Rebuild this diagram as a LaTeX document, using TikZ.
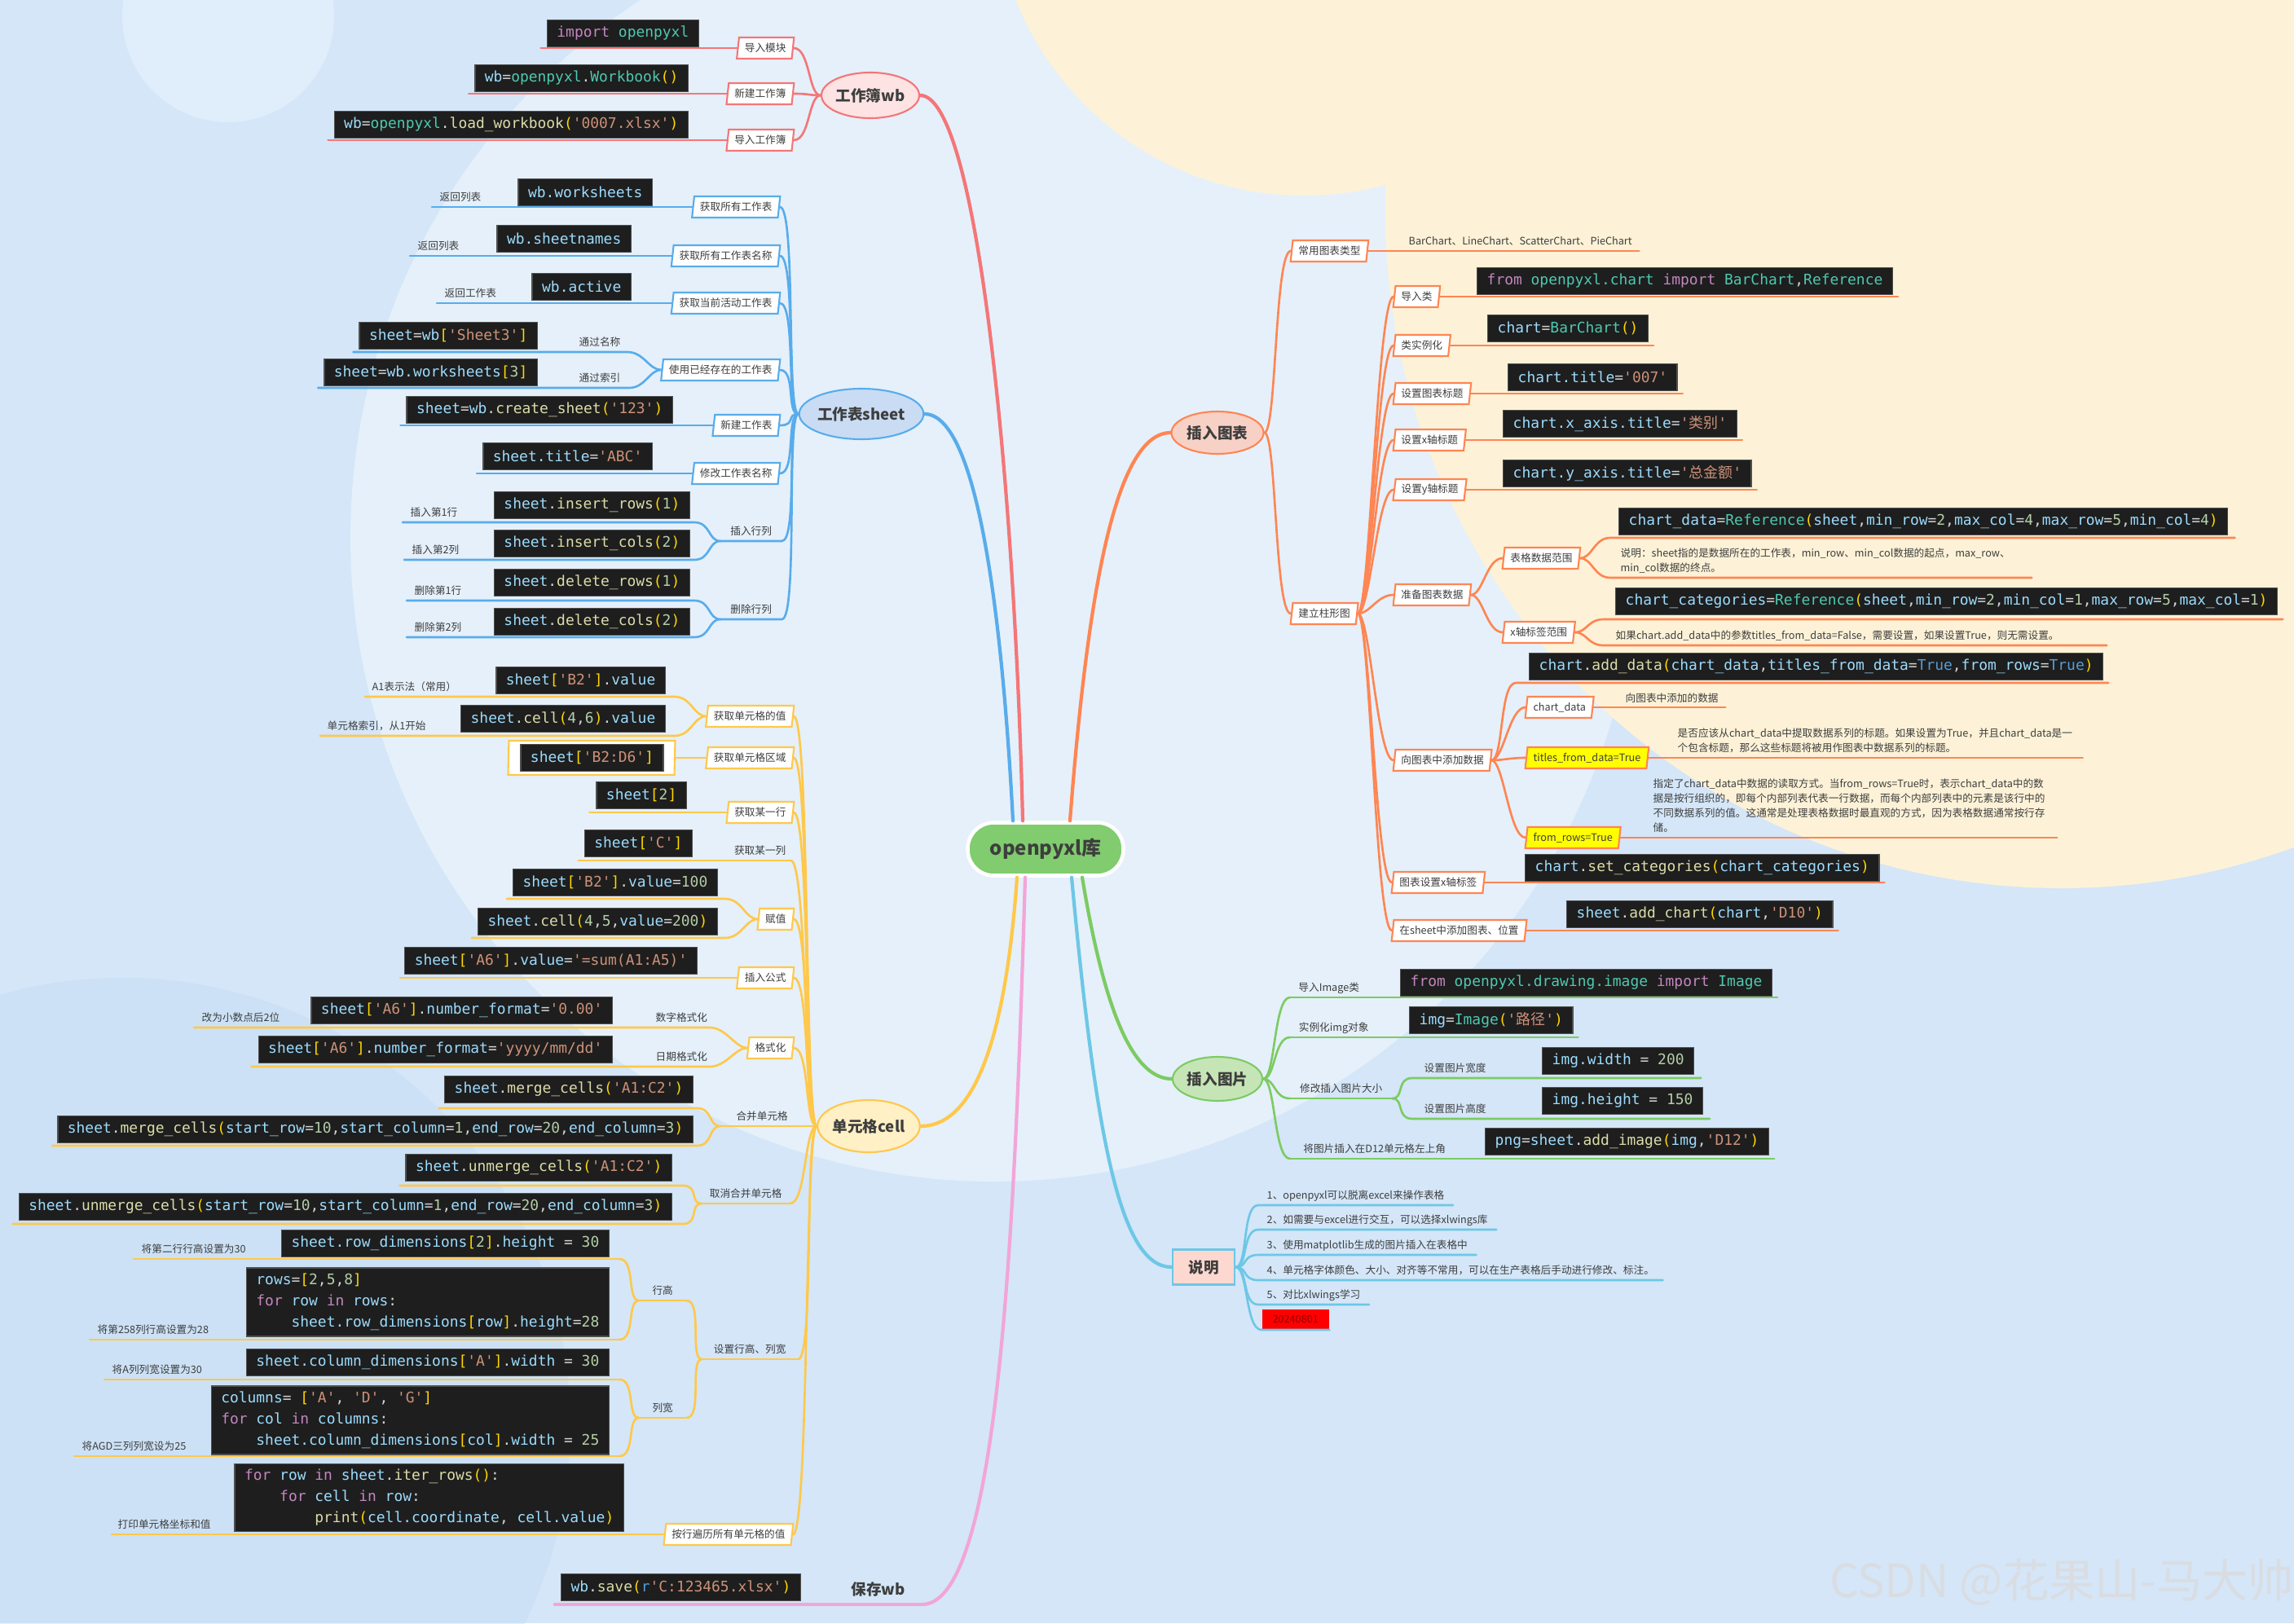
\documentclass[tikz,border=0pt]{standalone}
\usepackage{fontspec}
\setmainfont{Noto Sans CJK SC}
\setmonofont{DejaVu Sans Mono}
\newfontfamily\cjk{Noto Sans CJK SC}
\usepackage{tikz}
\usetikzlibrary{shapes.geometric}
\definecolor{bgblue}{HTML}{D4E6F8}
\definecolor{bgdeep}{HTML}{BFD8F2}
\definecolor{bgcream}{HTML}{FDF2D7}
\definecolor{inkgray}{HTML}{3E3E3E}
\definecolor{rootgrn}{HTML}{80CC6E}
\definecolor{wbpink}{HTML}{F47678}
\definecolor{wbfill}{HTML}{FDE3E3}
\definecolor{wsblue}{HTML}{58ACEB}
\definecolor{wsfill}{HTML}{C9DCF4}
\definecolor{ceyel}{HTML}{FFC84A}
\definecolor{cefill}{HTML}{FFF0C6}
\definecolor{chorg}{HTML}{FF8552}
\definecolor{chfill}{HTML}{F8D1C6}
\definecolor{imgrn}{HTML}{7CCB62}
\definecolor{imfill}{HTML}{C6E5B7}
\definecolor{mecyan}{HTML}{6DC7E6}
\definecolor{mefill}{HTML}{FDD8D0}
\definecolor{svpink}{HTML}{F2A5D8}
\definecolor{hiyel}{HTML}{FFFF00}
\definecolor{datered}{HTML}{FF0000}
\definecolor{datetext}{HTML}{8C0000}
\definecolor{markgray}{HTML}{D9DDE2}
\definecolor{codebg}{HTML}{1E1E1E}
\definecolor{codeedge}{HTML}{4F4F4F}
\definecolor{codeop}{HTML}{D4D4D4}
\definecolor{synVar}{HTML}{9CDCFE}
\definecolor{synFun}{HTML}{DCDCAA}
\definecolor{synCls}{HTML}{4EC9B0}
\definecolor{synStr}{HTML}{CE9178}
\definecolor{synNum}{HTML}{B5CEA8}
\definecolor{synBr}{HTML}{FFD700}
\definecolor{synKw}{HTML}{C586C0}
\definecolor{synBool}{HTML}{569CD6}
\newcommand\tagfont{\fontsize{3.6}{4.3}\selectfont}
\newcommand\descfont{\fontsize{3.6}{5.2}\selectfont}
\newcommand\codefont{\ttfamily\fontsize{5.1}{7.4}\selectfont}
\newcommand\hubfont{\bfseries\fontsize{5.3}{6.2}\selectfont}
\newcommand\cvar[1]{\textcolor{synVar}{#1}}
\newcommand\cfun[1]{\textcolor{synFun}{#1}}
\newcommand\ccls[1]{\textcolor{synCls}{#1}}
\newcommand\cstr[1]{\textcolor{synStr}{#1}}
\newcommand\cnum[1]{\textcolor{synNum}{#1}}
\newcommand\cbr[1]{\textcolor{synBr}{#1}}
\newcommand\ckw[1]{\textcolor{synKw}{#1}}
\newcommand\cbool[1]{\textcolor{synBool}{#1}}
\tikzset{
  root/.style={draw=white, fill=rootgrn, line width=1.3pt, rounded corners=0.32cm,
    minimum width=1.91cm, minimum height=0.65cm, text=inkgray,
    font=\bfseries\fontsize{6.8}{8}\selectfont},
  hub/.style={ellipse, line width=0.6pt, inner sep=0pt, font=\hubfont, text=inkgray},
  tag/.style={trapezium, trapezium left angle=81, trapezium right angle=99,
    trapezium stretches body, fill=white, line width=0.6pt, font=\tagfont,
    text=inkgray, inner xsep=0.07cm, inner ysep=0.03cm, minimum height=0.26cm},
  code/.style={draw=codeedge, fill=codebg, line width=0.4pt, font=\codefont,
    text=codeop, inner xsep=0.12cm, inner ysep=2pt, minimum height=0.33cm, align=left},
  note/.style={font=\tagfont, text=inkgray, anchor=south west, inner xsep=0pt,
    inner ysep=1.4pt, text height=2.9pt, text depth=0.4pt},
  fork/.style={note},
  desc/.style={note, font=\descfont, align=left},
  memoitem/.style={note, inner xsep=0.1cm},
  datebox/.style={anchor=south west, fill=datered, font=\tagfont, text=datetext,
    minimum width=0.82cm, minimum height=0.24cm, inner sep=0pt},
  wire/.style={line width=0.75pt, line cap=round},
  limb/.style={line width=1.2pt, line cap=round},
  twigL/.style={to path={.. controls +(-0.15,0) and +(0.2,0) .. (\tikztotarget)}},
  twigR/.style={to path={.. controls +(0.15,0) and +(-0.2,0) .. (\tikztotarget)}},
}
\begin{document}
\begin{tikzpicture}[x=1cm,y=-1cm]
  \useasboundingbox (0,0) rectangle (28.15,19.92);
  \clip (0,0) rectangle (28.15,19.92);
  % backdrop
  \fill[bgblue] (0,0) rectangle (28.15,19.92);
  \fill[bgdeep, opacity=.35] (1.5,17.5) circle (5.5);
  \fill[white, opacity=.4] (12.2,6.6) circle (7.9);
  \fill[bgcream] (25.3,2.6) circle (8.3);
  \fill[bgcream] (16.0,-1.4) circle (3.8);
  \fill[white, opacity=.3] (2.8,0.2) circle (1.3);

  % hubs
  \node[root] (root) at (12.83,10.42) {openpyxl库};
  \node[hub, draw=wbpink, fill=wbfill, minimum width=1.16cm, minimum height=0.56cm] (wb) at (10.68,1.17) {工作簿wb};
  \node[hub, draw=wsblue, fill=wsfill, minimum width=1.36cm, minimum height=0.62cm] (ws) at (10.57,5.08) {工作表sheet};
  \node[hub, draw=ceyel, fill=cefill, minimum width=1.20cm, minimum height=0.64cm] (cell) at (10.66,13.82) {单元格cell};
  \node[hub, draw=chorg, fill=chfill, minimum width=1.13cm, minimum height=0.52cm] (chart) at (14.94,5.31) {插入图表};
  \node[hub, draw=imgrn, fill=imfill, minimum width=1.10cm, minimum height=0.54cm] (img) at (14.94,13.24) {插入图片};
  \node[hub, rectangle, draw=mecyan, fill=mefill, line width=0.8pt, minimum width=0.76cm, minimum height=0.43cm] (memo) at (14.77,15.55) {说明};
  \node[fork, font=\hubfont, inner ysep=2.7pt, text height=4.2pt, text depth=0.5pt, minimum width=1.06cm] (save) at (10.24,19.69) {保存wb};

  \draw[limb, wbpink] ([xshift=-0.28cm]root.north) .. controls (12.45,6.0) and (12.0,1.17) .. (wb.east);
  \draw[limb, wsblue] ([xshift=-0.40cm]root.north) .. controls (12.3,7.6) and (12.0,5.08) .. (ws.east);
  \draw[limb, chorg] ([xshift=0.30cm]root.north) .. controls (13.35,7.2) and (13.7,5.31) .. (chart.west);
  \draw[limb, ceyel] ([xshift=-0.35cm]root.south) .. controls (12.35,12.6) and (12.0,13.82) .. (cell.east);
  \draw[limb, svpink] ([xshift=-0.25cm]root.south) .. controls (12.45,15.2) and (12.25,19.69) .. (save.south east);
  \draw[limb, imgrn] ([xshift=0.45cm]root.south) .. controls (13.55,12.4) and (13.9,13.24) .. (img.west);
  \draw[limb, mecyan] ([xshift=0.32cm]root.south) .. controls (13.45,14.0) and (13.75,15.55) .. (memo.west);

  % workbook
  \node[tag, draw=wbpink, anchor=east] (wbT1) at (9.74,0.59) {导入模块};
  \node[tag, draw=wbpink, anchor=east] (wbT2) at (9.74,1.15) {新建工作簿};
  \node[tag, draw=wbpink, anchor=east] (wbT3) at (9.74,1.72) {导入工作簿};
  \node[code, anchor=east] (wbC1) at (8.58,0.41) {\ckw{import} \ccls{openpyxl}};
  \node[code, anchor=east] (wbC2) at (8.45,0.96) {\cvar{wb}=\ccls{openpyxl}.\ccls{Workbook}\cbr{()}};
  \node[code, anchor=east] (wbC3) at (8.45,1.53) {\cvar{wb}=\ccls{openpyxl}.\cfun{load\_workbook}\cbr{(}\cstr{'0007.xlsx'}\cbr{)}};
  \foreach \n in {1,2,3} {
    \draw[wire, wbpink] (wb.west) to[twigL] (wbT\n.east);
    \draw[wire, wbpink] (wbT\n.west) -- (wbT\n.west -| wbC\n.west) -- ++(-0.07,0);
  }

  % worksheet
  \node[tag, draw=wsblue, anchor=east] (wsT1) at (9.57,2.54) {获取所有工作表};
  \node[tag, draw=wsblue, anchor=east] (wsT2) at (9.57,3.14) {获取所有工作表名称};
  \node[tag, draw=wsblue, anchor=east] (wsT3) at (9.57,3.72) {获取当前活动工作表};
  \node[tag, draw=wsblue, anchor=east] (wsT4) at (9.57,4.54) {使用已经存在的工作表};
  \node[tag, draw=wsblue, anchor=east] (wsT5) at (9.57,5.22) {新建工作表};
  \node[tag, draw=wsblue, anchor=east] (wsT6) at (9.57,5.81) {修改工作表名称};
  \node[fork, minimum width=0.74cm] (wsT7) at (8.84,6.64) {插入行列};
  \node[fork, minimum width=0.74cm] (wsT8) at (8.84,7.60) {删除行列};
  \node[code, anchor=east] (wsC1) at (8.01,2.36) {\cvar{wb.worksheets}};
  \node[code, anchor=east] (wsC2) at (7.75,2.93) {\cvar{wb.sheetnames}};
  \node[code, anchor=east] (wsC3) at (7.75,3.52) {\cvar{wb.active}};
  \node[code, anchor=east] (wsC4a) at (6.60,4.12) {\cvar{sheet}=\cvar{wb}\cbr{[}\cstr{'Sheet3'}\cbr{]}};
  \node[code, anchor=east] (wsC4b) at (6.60,4.57) {\cvar{sheet}=\cvar{wb.worksheets}\cbr{[}\cnum{3}\cbr{]}};
  \node[code, anchor=east] (wsC5) at (8.26,5.03) {\cvar{sheet}=\cvar{wb}.\cfun{create\_sheet}\cbr{(}\cstr{'123'}\cbr{)}};
  \node[code, anchor=east] (wsC6) at (8.01,5.60) {\cvar{sheet.title}=\cstr{'ABC'}};
  \node[code, anchor=east] (wsC7a) at (8.47,6.20) {\cvar{sheet}.\cfun{insert\_rows}\cbr{(}\cnum{1}\cbr{)}};
  \node[code, anchor=east] (wsC7b) at (8.47,6.67) {\cvar{sheet}.\cfun{insert\_cols}\cbr{(}\cnum{2}\cbr{)}};
  \node[code, anchor=east] (wsC8a) at (8.47,7.15) {\cvar{sheet}.\cfun{delete\_rows}\cbr{(}\cnum{1}\cbr{)}};
  \node[code, anchor=east] (wsC8b) at (8.47,7.63) {\cvar{sheet}.\cfun{delete\_cols}\cbr{(}\cnum{2}\cbr{)}};
  \node[note] (wsN1) at (5.39,2.54) {返回列表};
  \node[note] (wsN2) at (5.12,3.14) {返回列表};
  \node[note] (wsN3) at (5.45,3.72) {返回工作表};
  \node[note] (wsN4a) at (7.10,4.32) {通过名称};
  \node[note] (wsN4b) at (7.10,4.76) {通过索引};
  \node[note] (wsN7a) at (5.03,6.41) {插入第1行};
  \node[note] (wsN7b) at (5.05,6.87) {插入第2列};
  \node[note] (wsN8a) at (5.08,7.37) {删除第1行};
  \node[note] (wsN8b) at (5.08,7.82) {删除第2列};
  \coordinate (wsJ4a) at (7.70,4.32);
  \coordinate (wsJ4b) at (7.72,4.76);
  \coordinate (wsJ7a) at (8.52,6.41);
  \coordinate (wsJ7b) at (8.52,6.87);
  \coordinate (wsJ8a) at (8.52,7.37);
  \coordinate (wsJ8b) at (8.52,7.82);
  \foreach \n in {wsT1,wsT2,wsT3,wsT4,wsT5,wsT6} {\draw[wire, wsblue] (ws.west) to[twigL] (\n.east);}
  \foreach \n in {wsT7,wsT8} {
    \draw[wire, wsblue] (ws.west) to[twigL] (\n.south east) -- (\n.south west);
  }
  \foreach \n in {1,2,3} {\draw[wire, wsblue] (wsT\n.west) -- (wsT\n.west -| wsN\n.west) -- ++(-0.09,0);}
  \foreach \n in {a,b} {
    \draw[wire, wsblue] (wsT4.west) to[twigL] (wsJ4\n) -- (wsJ4\n -| wsC4\n.west) -- ++(-0.07,0);
    \draw[wire, wsblue] (wsT7.south west) to[twigL] (wsJ7\n) -- (wsJ7\n -| wsN7\n.west) -- ++(-0.09,0);
    \draw[wire, wsblue] (wsT8.south west) to[twigL] (wsJ8\n) -- (wsJ8\n -| wsN8\n.west) -- ++(-0.09,0);
  }
  \foreach \n in {5,6} {\draw[wire, wsblue] (wsT\n.west) -- (wsT\n.west -| wsC\n.west) -- ++(-0.07,0);}

  % cells
  \node[tag, draw=ceyel, anchor=east] (ceT1) at (9.74,8.79) {获取单元格的值};
  \node[tag, draw=ceyel, anchor=east] (ceT2) at (9.74,9.30) {获取单元格区域};
  \node[tag, draw=ceyel, anchor=east] (ceT3) at (9.74,9.97) {获取某一行};
  \node[fork, minimum width=0.74cm] (ceT4) at (8.95,10.56) {获取某一列};
  \node[tag, draw=ceyel, anchor=east] (ceT5) at (9.74,11.28) {赋值};
  \node[tag, draw=ceyel, anchor=east] (ceT6) at (9.74,12.00) {插入公式};
  \node[tag, draw=ceyel, anchor=east] (ceT7) at (9.74,12.86) {格式化};
  \node[fork, minimum width=1.01cm] (ceT8) at (8.84,13.82) {合并单元格};
  \node[fork, minimum width=1.07cm] (ceT9) at (8.61,14.77) {取消合并单元格};
  \node[fork, minimum width=1.17cm] (ceT10) at (8.61,16.68) {设置行高、列宽};
  \node[fork, minimum width=0.57cm] (ceT10a) at (7.84,15.96) {行高};
  \node[fork, minimum width=0.57cm] (ceT10b) at (7.84,17.40) {列宽};
  \node[tag, draw=ceyel, anchor=east] (ceT11) at (9.73,18.83) {按行遍历所有单元格的值};
  \node[tag, draw=ceyel, minimum width=2.05cm, minimum height=0.42cm] (ceF2) at (7.26,9.30) {};
  \node[code, anchor=east] (ceC1a) at (8.17,8.35) {\cvar{sheet}\cbr{[}\cstr{'B2'}\cbr{]}.\cvar{value}};
  \node[code, anchor=east] (ceC1b) at (8.17,8.82) {\cvar{sheet}.\cfun{cell}\cbr{(}\cnum{4},\cnum{6}\cbr{)}.\cvar{value}};
  \node[code] (ceC2) at (7.265,9.30) {\cvar{sheet}\cbr{[}\cstr{'B2:D6'}\cbr{]}};
  \node[code, anchor=east] (ceC3) at (8.43,9.76) {\cvar{sheet}\cbr{[}\cnum{2}\cbr{]}};
  \node[code, anchor=east] (ceC4) at (8.50,10.35) {\cvar{sheet}\cbr{[}\cstr{'C'}\cbr{]}};
  \node[code, anchor=east] (ceC5a) at (8.81,10.83) {\cvar{sheet}\cbr{[}\cstr{'B2'}\cbr{]}.\cvar{value}=\cnum{100}};
  \node[code, anchor=east] (ceC5b) at (8.81,11.31) {\cvar{sheet}.\cfun{cell}\cbr{(}\cnum{4},\cnum{5},\cvar{value}=\cnum{200}\cbr{)}};
  \node[code, anchor=east] (ceC6) at (8.56,11.79) {\cvar{sheet}\cbr{[}\cstr{'A6'}\cbr{]}.\cvar{value}=\cstr{'=sum(A1:A5)'}};
  \node[code, anchor=east] (ceC7a) at (7.52,12.40) {\cvar{sheet}\cbr{[}\cstr{'A6'}\cbr{]}.\cvar{number\_format}=\cstr{'0.00'}};
  \node[code, anchor=east] (ceC7b) at (7.52,12.88) {\cvar{sheet}\cbr{[}\cstr{'A6'}\cbr{]}.\cvar{number\_format}=\cstr{'yyyy/mm/dd'}};
  \node[code, anchor=east] (ceC8a) at (8.51,13.37) {\cvar{sheet}.\cfun{merge\_cells}\cbr{(}\cstr{'A1:C2'}\cbr{)}};
  \node[code, anchor=east] (ceC8b) at (8.51,13.86) {\cvar{sheet}.\cfun{merge\_cells}\cbr{(}\cvar{start\_row}=\cnum{10},\cvar{start\_column}=\cnum{1},\cvar{end\_row}=\cnum{20},\cvar{end\_column}=\cnum{3}\cbr{)}};
  \node[code, anchor=east] (ceC9a) at (8.25,14.33) {\cvar{sheet}.\cfun{unmerge\_cells}\cbr{(}\cstr{'A1:C2'}\cbr{)}};
  \node[code, anchor=east] (ceC9b) at (8.25,14.81) {\cvar{sheet}.\cfun{unmerge\_cells}\cbr{(}\cvar{start\_row}=\cnum{10},\cvar{start\_column}=\cnum{1},\cvar{end\_row}=\cnum{20},\cvar{end\_column}=\cnum{3}\cbr{)}};
  \node[code, anchor=east] (ceC10a1) at (7.48,15.26) {\cvar{sheet.row\_dimensions}\cbr{[}\cnum{2}\cbr{]}.\cvar{height} = \cnum{30}};
  \node[code, anchor=east] (ceC10a2) at (7.48,15.98) {\cvar{rows}=\cbr{[}\cnum{2},\cnum{5},\cnum{8}\cbr{]}\\
    \ckw{for} \cvar{row} \ckw{in} \cvar{rows}:\\
    \phantom{0000}\cvar{sheet.row\_dimensions}\cbr{[}\cvar{row}\cbr{]}.\cvar{height}=\cnum{28}};
  \node[code, anchor=east] (ceC10b1) at (7.48,16.72) {\cvar{sheet.column\_dimensions}\cbr{[}\cstr{'A'}\cbr{]}.\cvar{width} = \cnum{30}};
  \node[code, anchor=east] (ceC10b2) at (7.48,17.43) {\cvar{columns}= \cbr{[}\cstr{'A'}, \cstr{'D'}, \cstr{'G'}\cbr{]}\\
    \ckw{for} \cvar{col} \ckw{in} \cvar{columns}:\\
    \phantom{0000}\cvar{sheet.column\_dimensions}\cbr{[}\cvar{col}\cbr{]}.\cvar{width} = \cnum{25}};
  \node[code, anchor=east] (ceC11) at (7.66,18.38) {\ckw{for} \cvar{row} \ckw{in} \cvar{sheet}.\cfun{iter\_rows}\cbr{()}:\\
    \phantom{0000}\ckw{for} \cvar{cell} \ckw{in} \cvar{row}:\\
    \phantom{00000000}\cfun{print}\cbr{(}\cvar{cell.coordinate}, \cvar{cell.value}\cbr{)}};
  \node[note] (ceN1a) at (4.56,8.55) {A1表示法（常用）};
  \node[note] (ceN1b) at (4.01,9.03) {单元格索引，从1开始};
  \node[note] (ceN7a) at (2.47,12.61) {改为小数点后2位};
  \node[note] (ceN7s) at (8.04,12.61) {数字格式化};
  \node[note] (ceN7d) at (8.04,13.09) {日期格式化};
  \node[note] (ceN10a1) at (1.73,15.45) {将第二行行高设置为30};
  \node[note] (ceN10a2) at (1.19,16.44) {将第258列行高设置为28};
  \node[note] (ceN10b1) at (1.37,16.93) {将A列列宽设置为30};
  \node[note] (ceN10b2) at (1.00,17.87) {将AGD三列列宽设为25};
  \node[note] (ceN11) at (1.44,18.83) {打印单元格坐标和值};
  \coordinate (ceJ1a) at (8.28,8.55);
  \coordinate (ceJ1b) at (8.28,9.03);
  \coordinate (ceJ5a) at (8.90,11.03);
  \coordinate (ceJ5b) at (8.90,11.51);
  \coordinate (ceJ7a) at (8.71,12.61);
  \coordinate (ceJ7b) at (8.71,13.09);
  \coordinate (ceJ8a) at (8.55,13.60);
  \coordinate (ceJ8b) at (8.55,14.06);
  \coordinate (ceJ9a) at (8.38,14.55);
  \coordinate (ceJ9b) at (8.38,15.02);
  \coordinate (ceJ10a1) at (7.60,15.45);
  \coordinate (ceJ10a2) at (7.60,16.44);
  \coordinate (ceJ10b1) at (7.60,16.93);
  \coordinate (ceJ10b2) at (7.60,17.87);
  \foreach \n in {ceT1,ceT2,ceT3,ceT5,ceT6,ceT7,ceT11} {\draw[wire, ceyel] (cell.west) to[twigL] (\n.east);}
  \foreach \n in {ceT4,ceT8,ceT9,ceT10} {\draw[wire, ceyel] (cell.west) to[twigL] (\n.south east);}
  \foreach \n in {ceT8,ceT9,ceT10,ceT10a,ceT10b} {\draw[wire, ceyel] (\n.south east) -- (\n.south west);}
  \foreach \n in {a,b} {
    \draw[wire, ceyel] (ceT1.west) to[twigL] (ceJ1\n) -- (ceJ1\n -| ceN1\n.west) -- ++(-0.08,0);
    \draw[wire, ceyel] (ceT5.west) to[twigL] (ceJ5\n) -- (ceJ5\n -| ceC5\n.west) -- ++(-0.07,0);
    \draw[wire, ceyel] (ceT8.south west) to[twigL] (ceJ8\n) -- (ceJ8\n -| ceC8\n.west) -- ++(-0.06,0);
    \draw[wire, ceyel] (ceT9.south west) to[twigL] (ceJ9\n) -- (ceJ9\n -| ceC9\n.west) -- ++(-0.07,0);
    \draw[wire, ceyel] (ceT10.south west) to[twigL] (ceT10\n.south east);
  }
  \draw[wire, ceyel] (ceT2.west) -- (ceF2.east);
  \draw[wire, ceyel] (ceT3.west) -- (ceT3.west -| ceC3.west) -- ++(-0.08,0);
  \draw[wire, ceyel] (ceT4.south east) -- (ceT4.south east -| ceC4.west) -- ++(-0.07,0);
  \draw[wire, ceyel] (ceT6.west) -- (ceT6.west -| ceC6.west) -- ++(-0.05,0);
  \draw[wire, ceyel] (ceT7.west) to[twigL] (ceJ7a) -- (ceJ7a -| ceN7a.west) -- ++(-0.09,0);
  \draw[wire, ceyel] (ceT7.west) to[twigL] (ceJ7b) -- (ceJ7b -| ceC7b.west) -- ++(-0.08,0);
  \foreach \n in {a1,a2,b1,b2} {
    \draw[wire, ceyel] (ceJ10\n) -- (ceJ10\n -| ceN10\n.west) -- ++(-0.09,0);
  }
  \draw[wire, ceyel] (ceT10a.south west) to[twigL] (ceJ10a1);
  \draw[wire, ceyel] (ceT10a.south west) to[twigL] (ceJ10a2);
  \draw[wire, ceyel] (ceT10b.south west) to[twigL] (ceJ10b1);
  \draw[wire, ceyel] (ceT10b.south west) to[twigL] (ceJ10b2);
  \draw[wire, ceyel] (ceT11.west) -- (ceT11.west -| ceN11.west) -- ++(-0.07,0);

  % save
  \node[code, anchor=east] (saveC) at (9.83,19.48) {\cvar{wb}.\cfun{save}\cbr{(}\cbool{r}\cstr{'C:123465.xlsx'}\cbr{)}};
  \draw[limb, svpink] (save.south east) -- (save.south east -| saveC.west) -- ++(-0.07,0);

  % chart
  \node[tag, draw=chorg, anchor=west] (chT1) at (15.84,3.08) {常用图表类型};
  \node[tag, draw=chorg, anchor=west] (chT2) at (15.84,7.53) {建立柱形图};
  \node[tag, draw=chorg, anchor=west] (chT21) at (17.10,3.64) {导入类};
  \node[tag, draw=chorg, anchor=west] (chT22) at (17.10,4.24) {类实例化};
  \node[tag, draw=chorg, anchor=west] (chT23) at (17.10,4.83) {设置图表标题};
  \node[tag, draw=chorg, anchor=west] (chT24) at (17.10,5.40) {设置x轴标题};
  \node[tag, draw=chorg, anchor=west] (chT25) at (17.10,6.01) {设置y轴标题};
  \node[tag, draw=chorg, anchor=west] (chT26) at (17.10,7.30) {准备图表数据};
  \node[tag, draw=chorg, anchor=west] (chT27) at (17.10,9.33) {向图表中添加数据};
  \node[tag, draw=chorg, anchor=west] (chT28) at (17.08,10.83) {图表设置x轴标签};
  \node[tag, draw=chorg, anchor=west] (chT29) at (17.08,11.42) {在sheet中添加图表、位置};
  \node[tag, draw=chorg, anchor=west] (chT261) at (18.44,6.85) {表格数据范围};
  \node[tag, draw=chorg, anchor=west] (chT262) at (18.44,7.76) {x轴标签范围};
  \node[tag, draw=chorg, anchor=west] (chT271) at (18.72,8.68) {chart\_data};
  \node[tag, draw=chorg, fill=hiyel, anchor=west] (chT272) at (18.72,9.30) {titles\_from\_data=True};
  \node[tag, draw=chorg, fill=hiyel, anchor=west] (chT273) at (18.72,10.28) {from\_rows=True};
  \node[code, anchor=west] (chC21) at (18.12,3.45) {\ckw{from} \ccls{openpyxl.chart} \ckw{import} \ccls{BarChart},\ccls{Reference}};
  \node[code, anchor=west] (chC22) at (18.25,4.03) {\cvar{chart}=\ccls{BarChart}\cbr{()}};
  \node[code, anchor=west] (chC23) at (18.50,4.63) {\cvar{chart.title}=\cstr{'007'}};
  \node[code, anchor=west] (chC24) at (18.44,5.20) {\cvar{chart.x\_axis.title}=\cstr{'{\cjk 类别}'}};
  \node[code, anchor=west] (chC25) at (18.44,5.81) {\cvar{chart.y\_axis.title}=\cstr{'{\cjk 总金额}'}};
  \node[code, anchor=west] (chC261) at (19.86,6.40) {\cvar{chart\_data}=\ccls{Reference}\cbr{(}\cvar{sheet},\cvar{min\_row}=\cnum{2},\cvar{max\_col}=\cnum{4},\cvar{max\_row}=\cnum{5},\cvar{min\_col}=\cnum{4}\cbr{)}};
  \node[code, anchor=west] (chC262) at (19.82,7.38) {\cvar{chart\_categories}=\ccls{Reference}\cbr{(}\cvar{sheet},\cvar{min\_row}=\cnum{2},\cvar{min\_col}=\cnum{1},\cvar{max\_row}=\cnum{5},\cvar{max\_col}=\cnum{1}\cbr{)}};
  \node[code, anchor=west] (chC27) at (18.76,8.18) {\cvar{chart}.\cfun{add\_data}\cbr{(}\cvar{chart\_data},\cvar{titles\_from\_data}=\cbool{True},\cvar{from\_rows}=\cbool{True}\cbr{)}};
  \node[code, anchor=west] (chC28) at (18.71,10.65) {\cvar{chart}.\cfun{set\_categories}\cbr{(}\cvar{chart\_categories}\cbr{)}};
  \node[code, anchor=west] (chC29) at (19.22,11.22) {\cvar{sheet}.\cfun{add\_chart}\cbr{(}\cvar{chart},\cstr{'D10'}\cbr{)}};
  \node[note] (chN1) at (17.28,3.08) {BarChart、LineChart、ScatterChart、PieChart};
  \node[desc] (chN261) at (19.88,7.09) {说明：sheet指的是数据所在的工作表，min\_row、min\_col数据的起点，max\_row、\\min\_col数据的终点。};
  \node[note] (chN262) at (19.82,7.92) {如果chart.add\_data中的参数titles\_from\_data=False，需要设置，如果设置True，则无需设置。};
  \node[note] (chN271) at (19.94,8.69) {向图表中添加的数据};
  \node[desc] (chN272) at (20.58,9.30) {是否应该从chart\_data中提取数据系列的标题。如果设置为True，并且chart\_data是一\\个包含标题，那么这些标题将被用作图表中数据系列的标题。};
  \node[desc] (chN273) at (20.28,10.28) {指定了chart\_data中数据的读取方式。当from\_rows=True时，表示chart\_data中的数\\据是按行组织的，即每个内部列表代表一行数据，而每个内部列表中的元素是该行中的\\不同数据系列的值。这通常是处理表格数据时最直观的方式，因为表格数据通常按行存\\储。};
  \coordinate (chJ261a) at (19.76,6.60);
  \coordinate (chJ261b) at (19.76,7.09);
  \coordinate (chJ262a) at (19.68,7.60);
  \coordinate (chJ262b) at (19.68,7.92);
  \coordinate (chJ27) at (18.60,8.38);
  \foreach \n in {chT1,chT2} {\draw[wire, chorg] (chart.east) to[twigR] (\n.west);}
  \foreach \n in {chT21,chT22,chT23,chT24,chT25,chT26,chT27,chT28,chT29} {\draw[wire, chorg] (chT2.east) to[twigR] (\n.west);}
  \foreach \n in {chT261,chT262} {\draw[wire, chorg] (chT26.east) to[twigR] (\n.west);}
  \foreach \n in {chT271,chT272,chT273} {\draw[wire, chorg] (chT27.east) to[twigR] (\n.west);}
  \draw[wire, chorg] (chT1.east) -- (chT1.east -| chN1.east) -- ++(0.08,0);
  \foreach \n in {21,22,23,24,25,28,29} {\draw[wire, chorg] (chT\n.east) -- (chT\n.east -| chC\n.east) -- ++(0.06,0);}
  \draw[wire, chorg] (chT261.east) to[twigR] (chJ261a) -- (chJ261a -| chC261.east) -- ++(0.08,0);
  \draw[wire, chorg] (chT261.east) to[twigR] (chJ261b) -- (chJ261b -| chN261.east) -- ++(0.26,0);
  \draw[wire, chorg] (chT262.east) to[twigR] (chJ262a) -- (chJ262a -| chC262.east) -- ++(0.06,0);
  \draw[wire, chorg] (chT262.east) to[twigR] (chJ262b) -- (chJ262b -| chN262.east) -- ++(0.58,0);
  \draw[wire, chorg] (chT27.east) to[twigR] (chJ27) -- (chJ27 -| chC27.east) -- ++(0.06,0);
  \draw[wire, chorg] (chT271.east) -- (chT271.east -| chN271.east) -- ++(0.08,0);
  \draw[wire, chorg] (chT272.east) -- (chT272.east -| chN272.east) -- ++(0.12,0);
  \draw[wire, chorg] (chT273.east) -- (chT273.east -| chN273.east) -- ++(0.14,0);

  % image
  \node[fork, minimum width=0.94cm] (imT1) at (15.83,12.24) {导入Image类};
  \node[fork, minimum width=1.06cm] (imT2) at (15.83,12.73) {实例化img对象};
  \node[fork, minimum width=1.24cm] (imT3) at (15.83,13.48) {修改插入图片大小};
  \node[fork, minimum width=2.06cm] (imT4) at (15.83,14.22) {将图片插入在D12单元格左上角};
  \node[code, anchor=west] (imC1) at (17.18,12.06) {\ckw{from} \ccls{openpyxl.drawing.image} \ckw{import} \ccls{Image}};
  \node[code, anchor=west] (imC2) at (17.29,12.52) {\cvar{img}=\ccls{Image}\cbr{(}\cstr{'{\cjk 路径}'}\cbr{)}};
  \node[code, anchor=west] (imC3a) at (18.92,13.02) {\cvar{img.width} = \cnum{200}};
  \node[code, anchor=west] (imC3b) at (18.92,13.51) {\cvar{img.height} = \cnum{150}};
  \node[code, anchor=west] (imC4) at (18.22,14.01) {\cvar{png}=\cvar{sheet}.\cfun{add\_image}\cbr{(}\cvar{img},\cstr{'D12'}\cbr{)}};
  \node[note] (imN3a) at (17.47,13.23) {设置图片宽度};
  \node[note] (imN3b) at (17.47,13.73) {设置图片高度};
  \coordinate (imJ3a) at (17.33,13.23);
  \coordinate (imJ3b) at (17.33,13.73);
  \foreach \n in {1,2,3,4} {\draw[wire, imgrn] (img.east) to[twigR] (imT\n.south west);}
  \foreach \n in {1,2,4} {\draw[wire, imgrn] (imT\n.south west) -- (imT\n.south west -| imC\n.east) -- ++(0.06,0);}
  \draw[wire, imgrn] (imT3.south west) -- (imT3.south east);
  \foreach \n in {a,b} {\draw[wire, imgrn] (imT3.south east) to[twigR] (imJ3\n) -- (imJ3\n -| imC3\n.east) -- ++(0.08,0);}

  % notes
  \node[memoitem] (mT1) at (15.44,14.79) {1、openpyxl可以脱离excel来操作表格};
  \node[memoitem] (mT2) at (15.44,15.09) {2、如需要与excel进行交互，可以选择xlwings库};
  \node[memoitem] (mT3) at (15.44,15.40) {3、使用matplotlib生成的图片插入在表格中};
  \node[memoitem] (mT4) at (15.44,15.71) {4、单元格字体颜色、大小、对齐等不常用，可以在生产表格后手动进行修改、标注。};
  \node[memoitem] (mT5) at (15.44,16.01) {5、对比xlwings学习};
  \node[datebox] (mT6) at (15.48,16.32) {20240801};
  \foreach \n in {1,...,6} {\draw[wire, mecyan] (memo.east) to[twigR] (mT\n.south west) -- (mT\n.south east);}

  % watermark
  \node[text=markgray, font=\fontsize{16}{18}\selectfont] (mark) at (25.30,19.42) {CSDN @花果山-马大帅};
\end{tikzpicture}
\end{document}
